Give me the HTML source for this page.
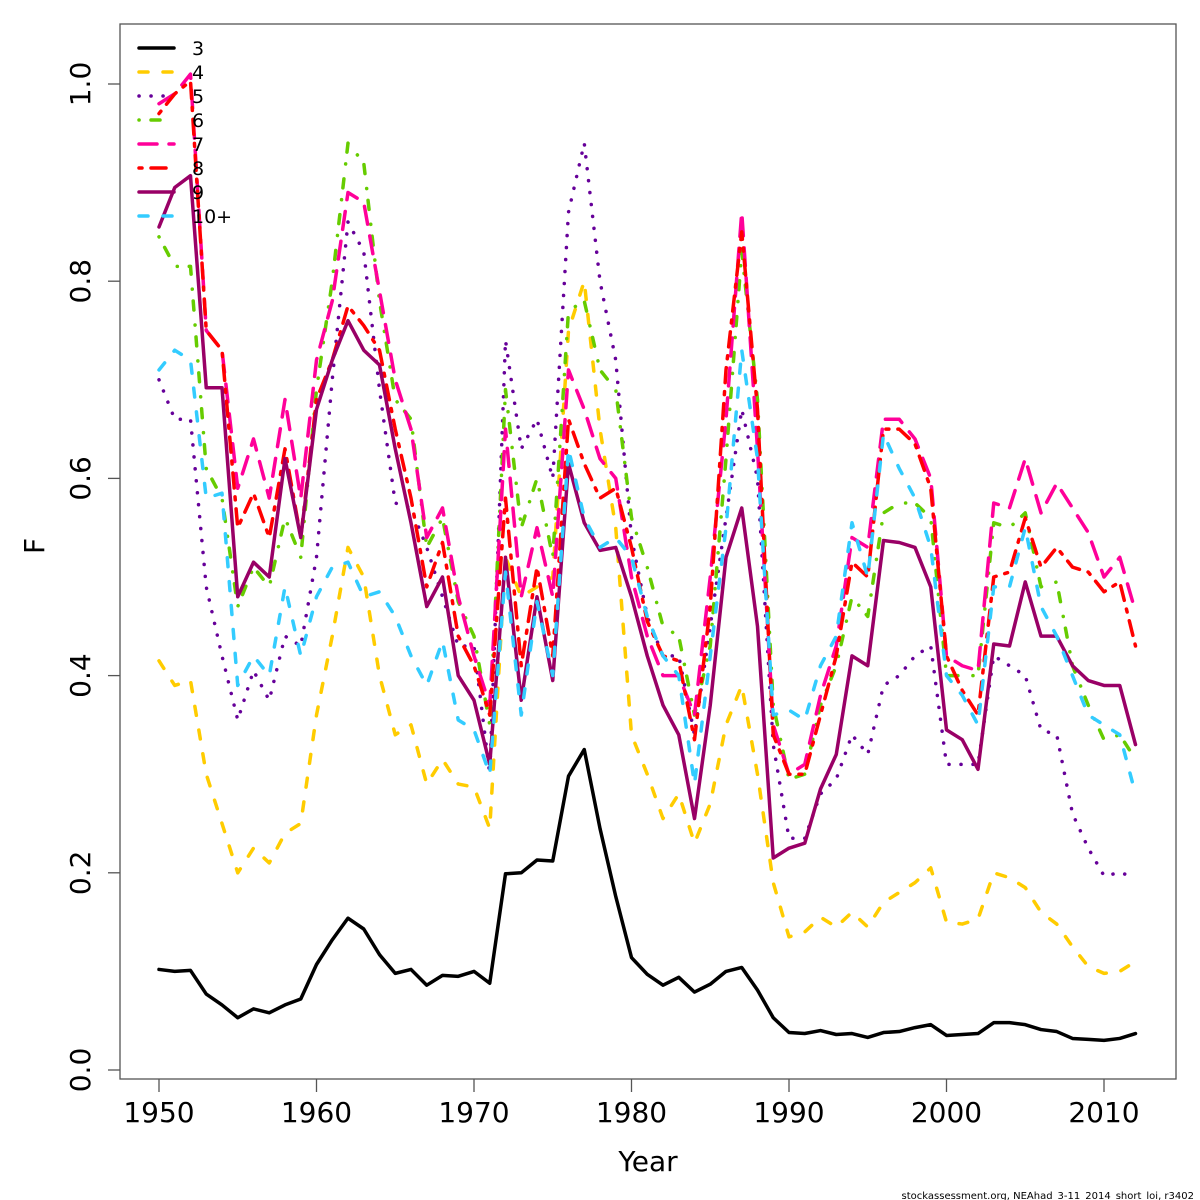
<!DOCTYPE html>
<html><head><meta charset="utf-8"><style>
html,body{margin:0;padding:0;background:#fff;}
svg{display:block;font-family:"DejaVu Sans","Liberation Sans",sans-serif;}
</style></head><body>
<svg id="chart" width="1200" height="1200" viewBox="0 0 1200 1200">
<rect x="120" y="24" width="1056" height="1055" fill="none" stroke="#555" stroke-width="1.3"/>
<g id="axes"></g>
<g id="series"></g>
<g id="legend"></g>
<text x="648" y="1171" font-size="28" text-anchor="middle">Year</text>
<text x="0" y="0" font-size="28" text-anchor="middle" transform="translate(44,546) rotate(-90)">F</text>
<text x="1194" y="1199" font-size="10" text-anchor="end">stockassessment.org, NEAhad_3-11_2014_short_loi, r3402</text>
</svg>
<script>
const startYear = 1950;
const seriesNames = ["3","4","5","6","7","8","9","10+"];
const xTicks = [1950,1960,1970,1980,1990,2000,2010];
const yTicks = [0,0.2,0.4,0.6,0.8,1.0];
const yTickLabels = ["0.0","0.2","0.4","0.6","0.8","1.0"];
const f3 = [.102,.100,.101,.077,.066,.053,.062,.058,.066,.072,.107,.132,.154,.143,.117,.098,.102,.086,.096,.095,.100,.088,.199,.200,.213,.212,.298,.325,.245,.176,.114,.097,.086,.094,.079,.087,.100,.104,.081,.053,.038,.037,.040,.036,.037,.033,.038,.039,.043,.046,.035,.036,.037,.048,.048,.046,.041,.039,.032,.031,.030,.032,.037];
const f4 = [.415,.39,.395,.30,.25,.20,.225,.21,.24,.25,.36,.44,.53,.50,.40,.34,.35,.29,.315,.29,.287,.245,.52,.48,.49,.50,.75,.80,.65,.55,.34,.30,.255,.28,.23,.27,.35,.39,.30,.19,.135,.14,.155,.145,.16,.145,.17,.18,.19,.205,.15,.148,.153,.20,.195,.185,.16,.148,.125,.105,.098,.10,.11];
const f5 = [.70,.66,.66,.49,.42,.355,.405,.375,.44,.43,.52,.70,.86,.83,.69,.575,.57,.53,.48,.43,.43,.30,.74,.63,.66,.60,.87,.94,.80,.72,.54,.46,.42,.42,.34,.45,.56,.67,.60,.33,.235,.235,.28,.295,.34,.32,.39,.40,.42,.43,.31,.31,.31,.42,.41,.40,.345,.34,.26,.225,.197,.20,.196];
const f6 = [.845,.815,.815,.61,.58,.47,.51,.49,.56,.52,.69,.80,.94,.92,.78,.68,.66,.53,.56,.475,.44,.35,.69,.55,.60,.52,.77,.78,.71,.69,.56,.51,.45,.44,.36,.43,.62,.83,.68,.37,.295,.30,.37,.41,.48,.46,.565,.575,.575,.56,.40,.40,.40,.555,.55,.565,.49,.495,.41,.37,.335,.34,.315];
const f7 = [.98,.99,1.01,.75,.73,.59,.64,.58,.68,.58,.72,.78,.89,.88,.79,.70,.65,.54,.57,.48,.42,.37,.65,.48,.55,.48,.71,.67,.62,.60,.50,.44,.40,.40,.36,.50,.66,.87,.63,.35,.30,.31,.38,.43,.54,.53,.66,.66,.64,.60,.42,.41,.405,.575,.57,.62,.565,.595,.57,.545,.50,.52,.465];
const f8 = [.97,.99,1.003,.75,.73,.55,.585,.54,.63,.54,.68,.72,.775,.755,.73,.65,.58,.49,.535,.44,.41,.36,.58,.41,.51,.42,.66,.615,.58,.59,.53,.455,.42,.415,.335,.47,.71,.85,.67,.34,.30,.30,.36,.42,.515,.50,.65,.65,.635,.59,.42,.385,.36,.50,.505,.56,.51,.53,.51,.505,.485,.495,.43];
const f9 = [.855,.895,.907,.692,.692,.48,.515,.50,.62,.54,.67,.72,.76,.73,.715,.63,.555,.47,.50,.40,.375,.31,.52,.375,.48,.395,.615,.555,.527,.53,.48,.42,.37,.34,.255,.37,.52,.57,.45,.215,.225,.23,.285,.32,.42,.41,.537,.535,.53,.49,.345,.335,.305,.432,.43,.495,.44,.44,.41,.395,.39,.39,.33];
const f10 = [.71,.73,.72,.58,.585,.39,.42,.40,.49,.42,.48,.51,.515,.48,.485,.46,.42,.39,.435,.355,.345,.30,.505,.36,.475,.40,.63,.56,.53,.54,.52,.46,.42,.40,.29,.42,.55,.73,.62,.36,.365,.355,.41,.44,.555,.50,.645,.61,.58,.53,.40,.38,.35,.49,.49,.55,.47,.44,.40,.36,.35,.34,.28];

const allSeries = [f3,f4,f5,f6,f7,f8,f9,f10];
const colors = ["#000000","#FFCC00","#660099","#66CC00","#FF0099","#FF0000","#990066","#33CCFF"];
const dashes = ["","9,15","0.1,11.9","0.1,11.9,9,15","18,12","3,9,15,9","","9,15"];
const NS="http://www.w3.org/2000/svg";
const xs = y => 159 + (y-1950)*(1104-159)/60;
const ys = v => 1070 - v*986;

const axes = document.getElementById('axes');
xTicks.forEach(t=>{
  const l=document.createElementNS(NS,'line');
  l.setAttribute('x1',xs(t));l.setAttribute('x2',xs(t));l.setAttribute('y1',1079);l.setAttribute('y2',1092);
  l.setAttribute('stroke','#555');l.setAttribute('stroke-width','1.3');
  
  
  axes.appendChild(l);
  const tx=document.createElementNS(NS,'text');
  tx.setAttribute('x',xs(t));tx.setAttribute('y',1122);tx.setAttribute('font-size','28');tx.setAttribute('text-anchor','middle');
  tx.textContent=t;
  
  
  axes.appendChild(tx);
});
yTicks.forEach((t,i)=>{
  const l=document.createElementNS(NS,'line');
  l.setAttribute('x1',108);l.setAttribute('x2',120);l.setAttribute('y1',ys(t));l.setAttribute('y2',ys(t));
  l.setAttribute('stroke','#555');l.setAttribute('stroke-width','1.3');
  
  
  axes.appendChild(l);
  const tx=document.createElementNS(NS,'text');
  tx.setAttribute('x',0);tx.setAttribute('y',0);tx.setAttribute('font-size','28');tx.setAttribute('text-anchor','middle');
  tx.setAttribute('transform',`translate(90,${ys(t)}) rotate(-90)`);
  tx.textContent=yTickLabels[i];
  
  
  axes.appendChild(tx);
});

const sg=document.getElementById('series');
allSeries.forEach((arr,k)=>{
  const p=document.createElementNS(NS,'polyline');
  p.setAttribute('points',arr.map((v,i)=>xs(startYear+i)+','+ys(v)).join(' '));
  p.setAttribute('fill','none');p.setAttribute('stroke',colors[k]);p.setAttribute('stroke-width','3.5');
  p.setAttribute('stroke-linejoin','round');p.setAttribute('stroke-linecap','round');
  if(dashes[k])p.setAttribute('stroke-dasharray',dashes[k]);
  
  
  sg.appendChild(p);
});

const lg=document.getElementById('legend');
seriesNames.forEach((n,k)=>{
  const y=48+k*24;
  const l=document.createElementNS(NS,'line');
  l.setAttribute('x1',139);l.setAttribute('x2',174);l.setAttribute('y1',y);l.setAttribute('y2',y);
  l.setAttribute('stroke',colors[k]);l.setAttribute('stroke-width','3.5');l.setAttribute('stroke-linecap','round');
  if(dashes[k])l.setAttribute('stroke-dasharray',dashes[k]);
  
  
  lg.appendChild(l);
  const tx=document.createElementNS(NS,'text');
  tx.setAttribute('x',192);tx.setAttribute('y',y+7);tx.setAttribute('font-size','19');
  tx.textContent=n;
  
  
  lg.appendChild(tx);
});
</script>
</body></html>
